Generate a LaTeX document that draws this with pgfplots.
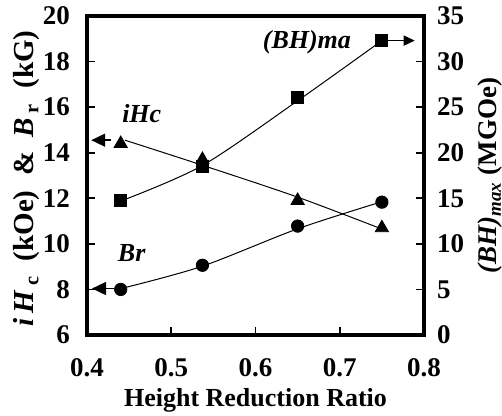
\documentclass[border=0pt]{standalone}
\usepackage{fontspec}
\setmainfont{Liberation Serif}
\usepackage{pgfplots}
\pgfplotsset{compat=1.18}
\usetikzlibrary{arrows.meta}

\begin{document}
\begin{tikzpicture}[font=\bfseries]
\pgfplotsset{
  every axis/.append style={
    scale only axis, width=168.5pt, height=159.5pt,
    xmin=0.4, xmax=0.8,
    tick align=inside,
    major tick length=4pt,
    tick style={line width=0.8pt, black},
    axis line style={line width=1.6pt},
    /pgf/number format/assume math mode=true,
    tick label style={font=\fontsize{13.5}{15}\selectfont\bfseries},
    label style={font=\fontsize{13}{15}\selectfont\bfseries},
  },
  fit/.style={black, line width=0.5pt, smooth, no marks},
}
\begin{axis}[
  name=main,
  ymin=6, ymax=20, ytick={6,8,...,20},
  xtick={0.4,0.5,...,0.8},
  xtick pos=bottom, ytick pos=left,
  xticklabel shift=8pt,
  xticklabel style={/pgf/number format/.cd, fixed, fixed zerofill, precision=1},
  yticklabel shift=5pt,
  xlabel={Height Reduction Ratio},
  xlabel style={at={(axis description cs:0.5,-0.205)}, anchor=center},
  ylabel={{\itshape i}\,\textit{H}\,\textsubscript{c}\ \ (kOe)\ \ \&\ \ \textit{B}\,\textsubscript{r}\ \ (kG)},
  ylabel style={at={(axis description cs:-0.178,0.49)}, anchor=center, font=\fontsize{14.5}{17}\selectfont\bfseries},
]
% iHc: markers and fitted line
\addplot[black, only marks, mark=triangle*, mark size=3.8pt] coordinates {
  (0.44, 14.4) (0.537, 13.7) (0.65, 11.9) (0.75, 10.7)
};
\addplot[fit] coordinates {
  (0.445, 14.55) (0.537, 13.45) (0.65, 12.05) (0.75, 10.65)
};
% Br: markers and fitted line
\addplot[black, only marks, mark=*, mark size=3.1pt] coordinates {
  (0.44, 8.0) (0.537, 9.06) (0.65, 10.78) (0.75, 11.83)
};
\addplot[fit] coordinates {
  (0.445, 8.08) (0.537, 9.02) (0.65, 10.66) (0.75, 11.85)
};
\node[font=\fontsize{13}{15}\selectfont\bfseries\itshape] at (axis cs:0.465,15.7) {iHc};
\node[font=\fontsize{13}{15}\selectfont\bfseries\itshape] at (axis cs:0.453,9.6) {Br};
\node[font=\fontsize{13}{15}\selectfont\bfseries\itshape] at (axis cs:0.661,18.86) {(BH)ma};
\draw[line width=0.8pt, -{Triangle[length=7pt,width=6.5pt]}] (axis cs:0.428,14.55) -- (axis cs:0.405,14.55);
\draw[line width=0.8pt, -{Triangle[length=7pt,width=6.5pt]}] (axis cs:0.432,8.04) -- (axis cs:0.406,8.04);
\end{axis}
\begin{axis}[
  axis x line=none,
  axis y line*=right,
  ymin=0, ymax=35, ytick={0,5,...,35},
  yticklabel shift=3pt,
  ylabel={\textit{(BH)}\textsubscript{\itshape max} (MGOe)},
  ylabel style={font=\fontsize{13.5}{15}\selectfont\bfseries},
]
% (BH)max: markers and fitted line
\addplot[black, only marks, mark=square*, mark size=3pt] coordinates {
  (0.44, 14.8) (0.537, 18.5) (0.65, 26.1) (0.75, 32.3)
};
\addplot[fit] coordinates {
  (0.443, 14.8) (0.537, 18.6) (0.65, 25.7) (0.75, 32.3)
};
\draw[line width=0.8pt, -{Triangle[length=5.5pt,width=5pt]}] (axis cs:0.757,32.3) -- (axis cs:0.789,32.3);
\end{axis}
\pgfresetboundingbox
\path ([shift={(-43.5pt,-40.5pt)}]main.south west) rectangle ([shift={(39pt,8pt)}]main.north east);
\end{tikzpicture}
\end{document}
